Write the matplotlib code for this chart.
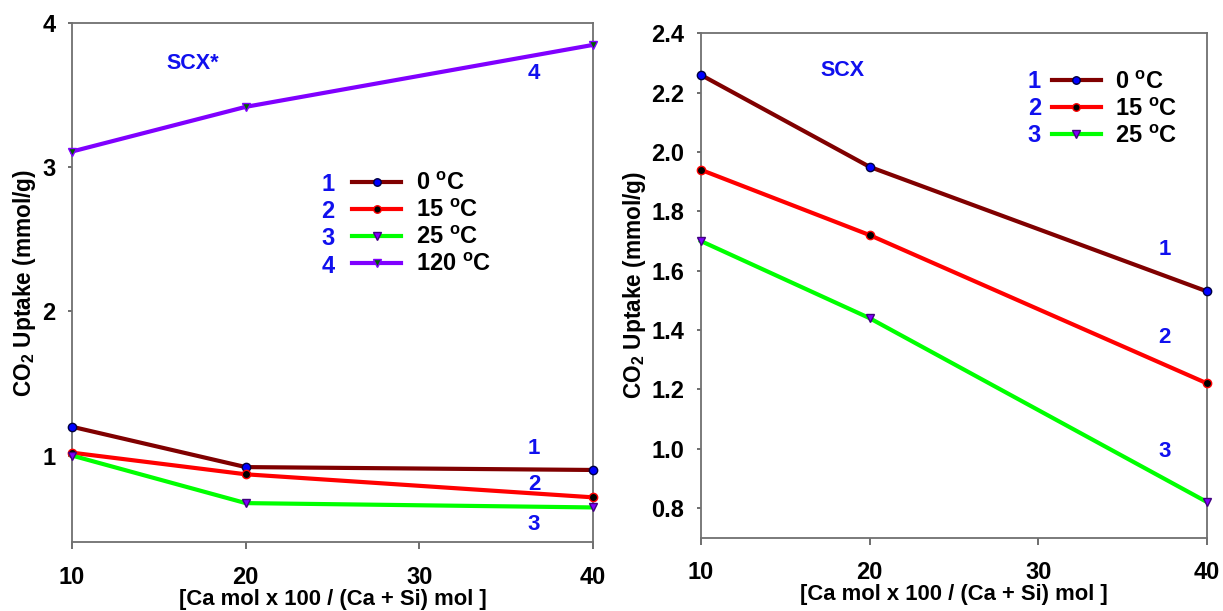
import matplotlib
matplotlib.use('Agg')
import matplotlib.pyplot as plt

plt.rcParams['font.family'] = ['Liberation Sans', 'DejaVu Sans']
plt.rcParams['font.weight'] = 'bold'
plt.rcParams['mathtext.fontset'] = 'custom'
plt.rcParams['mathtext.rm'] = 'Liberation Sans:bold'
plt.rcParams['mathtext.bf'] = 'Liberation Sans:bold'
plt.rcParams['mathtext.it'] = 'Liberation Sans:bold'

# ---- DATA ----
x_ratio = [10, 20, 40]
temps_left = ['0', '15', '25', '120']
scx_star = [
    [1.20, 0.92, 0.90],   # 0 C
    [1.02, 0.87, 0.71],   # 15 C
    [1.00, 0.67, 0.64],   # 25 C
    [3.11, 3.42, 3.85],   # 120 C
]
temps_right = ['0', '15', '25']
scx = [
    [2.26, 1.95, 1.53],
    [1.94, 1.72, 1.22],
    [1.70, 1.44, 0.82],
]

# ---- STYLE ----
colors = ['#800000', '#ff0000', '#00ff00', '#8000ff']
markers = ['o', 'o', 'v', 'v']
mfc = ['#0000ff', '#000000', '#8000ff', '#006000']
mec = ['#000040', '#ff0000', '#400080', '#8000ff']
BLUE = '#1010ee'
xlabel = '[Ca mol x 100 / (Ca + Si) mol ]'
ylabel = r'CO$_\mathbf{2}$ Uptake (mmol/g)'

fig = plt.figure(figsize=(12.23, 6.11), dpi=100)
ax1 = fig.add_axes([0.0589, 0.1129, 0.426, 0.849])
ax2 = fig.add_axes([0.573, 0.120, 0.414, 0.8255])


def style_axes(ax, ylim, yticks, yfmt, ylpad):
    ax.set_xlim(10, 40)
    ax.set_ylim(*ylim)
    ax.set_xticks([10, 20, 30, 40])
    ax.set_yticks(yticks)
    ax.set_yticklabels([yfmt.format(v) for v in yticks])
    for s in ax.spines.values():
        s.set_color('#707070')
        s.set_linewidth(1.3)
    ax.tick_params(axis='x', direction='out', length=5, width=1.2, color='#555555',
                   pad=12, labelsize=17)
    ax.tick_params(axis='y', direction='out', length=3, width=1.2, color='#555555',
                   pad=9, labelsize=17)
    ax.set_xlabel(xlabel, fontsize=15.8, fontweight='bold', labelpad=0)
    ax.set_ylabel(ylabel, fontsize=16.3, fontweight='bold', labelpad=ylpad)


def draw(ax, series, temps, leg_anchor, num_x, num_top, num_step):
    handles = []
    for i, ys in enumerate(series):
        h, = ax.plot(x_ratio, ys, color=colors[i], lw=3, marker=markers[i],
                     ms=6, mfc=mfc[i], mec=mec[i], mew=1, clip_on=False, zorder=3)
        handles.append(h)
    labels = [t + r' $^\mathbf{o}$C' for t in temps]
    ax.legend(handles, labels, loc='upper left', bbox_to_anchor=leg_anchor,
              frameon=False, fontsize=17, handlelength=2.1, handletextpad=0.6,
              labelspacing=0.17, borderpad=0, borderaxespad=0, markerscale=0.9)
    for i in range(len(temps)):
        ax.text(num_x, num_top - i * num_step, str(i + 1), transform=ax.transAxes,
                color=BLUE, fontsize=17, fontweight='bold', ha='center', va='center')


# left: SCX*
style_axes(ax1, (0.4, 4.0), [1, 2, 3, 4], '{:d}', 3)
draw(ax1, scx_star, temps_left, (0.537, 0.713), 0.491, 0.690, 0.0527)
ax1.text(16.97, 3.72, 'SCX*', color=BLUE, fontsize=15.5, fontweight='bold',
         ha='center', va='center')
for n, xx, yy in [('1', 36.6, 1.05), ('2', 36.6, 0.80), ('3', 36.6, 0.52), ('4', 36.6, 3.65)]:
    ax1.text(xx, yy, n, color=BLUE, fontsize=16, fontweight='bold', ha='center', va='center')

# right: SCX
style_axes(ax2, (0.7, 2.4), [0.8, 1.0, 1.2, 1.4, 1.6, 1.8, 2.0, 2.2, 2.4], '{:.1f}', 2)
draw(ax2, scx, temps_right, (0.693, 0.926), 0.659, 0.905, 0.0535)
ax2.text(18.4, 2.275, 'SCX', color=BLUE, fontsize=15.5, fontweight='bold',
         ha='center', va='center')
for n, xx, yy in [('1', 37.5, 1.67), ('2', 37.5, 1.376), ('3', 37.5, 0.99)]:
    ax2.text(xx, yy, n, color=BLUE, fontsize=16, fontweight='bold', ha='center', va='center')

fig.savefig('out.png', dpi=100)
